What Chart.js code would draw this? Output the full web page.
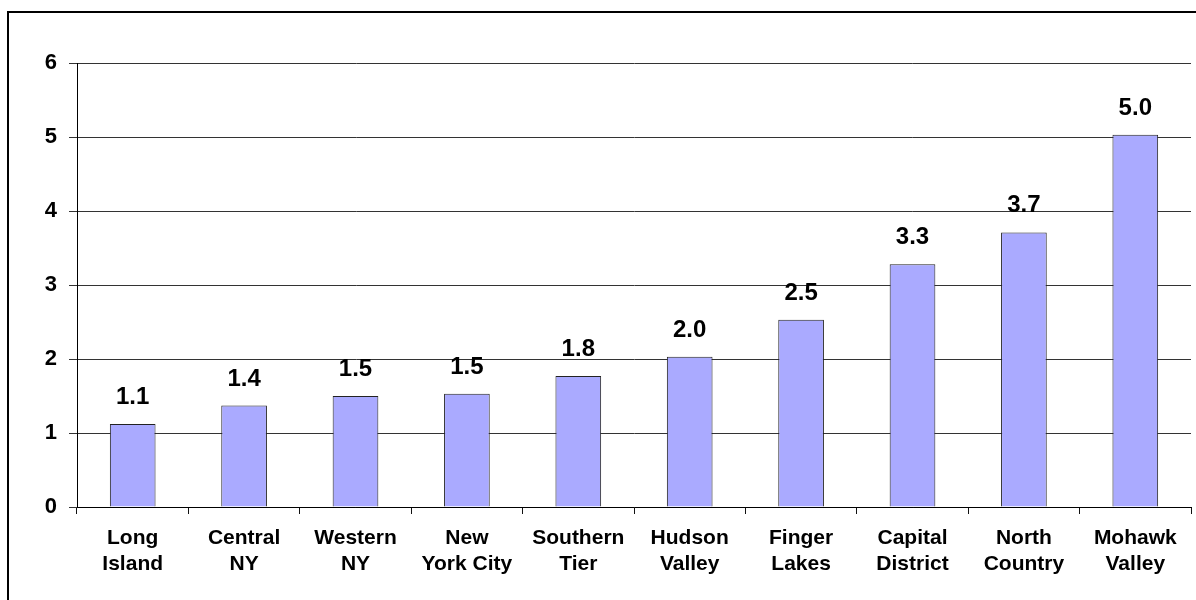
<!DOCTYPE html>
<html>
<head>
<meta charset="utf-8">
<script src="https://cdn.jsdelivr.net/npm/chart.js@4"></script>
<style>
  html, body { margin: 0; padding: 0; background: #fff; }
  #wrap { width: 1196px; height: 600px; }
</style>
</head>
<body>
<div id="wrap"><canvas id="chart" width="1196" height="600"></canvas></div>
<script>
const regions = [
  ["Long", "Island"], ["Central", "NY"], ["Western", "NY"], ["New", "York City"],
  ["Southern", "Tier"], ["Hudson", "Valley"], ["Finger", "Lakes"],
  ["Capital", "District"], ["North", "Country"], ["Mohawk", "Valley"]
];
const rates = [1.12, 1.37, 1.50, 1.53, 1.77, 2.03, 2.53, 3.28, 3.71, 5.03];
const yTicks = [0, 1, 2, 3, 4, 5, 6];

const FONT = "'Liberation Sans', Arial, sans-serif";

// outer frame, clipped at right and bottom like the original
const framePlugin = {
  id: "frame",
  beforeDraw(chart) {
    const ctx = chart.ctx;
    ctx.save();
    ctx.strokeStyle = "#000";
    ctx.lineWidth = 2;
    ctx.strokeRect(8, 12, 1200, 600);
    ctx.restore();
  }
};

// value labels above each bar
const valueLabels = {
  id: "valueLabels",
  afterDatasetsDraw(chart) {
    const ctx = chart.ctx;
    const meta = chart.getDatasetMeta(0);
    ctx.save();
    ctx.font = "bold 24px " + FONT;
    ctx.fillStyle = "#000";
    ctx.textAlign = "center";
    ctx.textBaseline = "alphabetic";
    meta.data.forEach((bar, i) => {
      ctx.fillText(rates[i].toFixed(1), bar.x, bar.y - 20);
    });
    ctx.restore();
  }
};

new Chart(document.getElementById("chart"), {
  type: "bar",
  data: {
    labels: regions,
    datasets: [{
      data: rates,
      backgroundColor: "#AAAAFF",
      borderColor: "#222",
      borderWidth: 1,
      categoryPercentage: 1,
      barPercentage: 0.41
    }]
  },
  options: {
    responsive: false,
    animation: false,
    layout: { padding: { left: 0, top: 63, right: 5, bottom: 0 } },
    plugins: {
      legend: { display: false },
      tooltip: { enabled: false }
    },
    scales: {
      x: {
        grid: { drawOnChartArea: false, drawTicks: true, tickLength: 7, color: "#111", offset: true },
        border: { color: "#000", width: 1 },
        ticks: {
          color: "#000",
          font: { family: FONT, size: 21, weight: "bold", lineHeight: 1.25 },
          padding: 11,
          maxRotation: 0,
          autoSkip: false
        },
        afterFit(scale) { scale.height = 93; }
      },
      y: {
        min: 0,
        max: 6,
        afterBuildTicks(scale) { scale.ticks = yTicks.map(v => ({ value: v })); },
        grid: { color: "#333", lineWidth: 1, tickLength: 8 },
        border: { color: "#000", width: 1 },
        ticks: {
          color: "#000",
          font: { family: FONT, size: 22, weight: "bold" },
          padding: 12
        },
        afterFit(scale) { scale.width = 77; }
      }
    }
  },
  plugins: [framePlugin, valueLabels]
});
</script>
</body>
</html>
